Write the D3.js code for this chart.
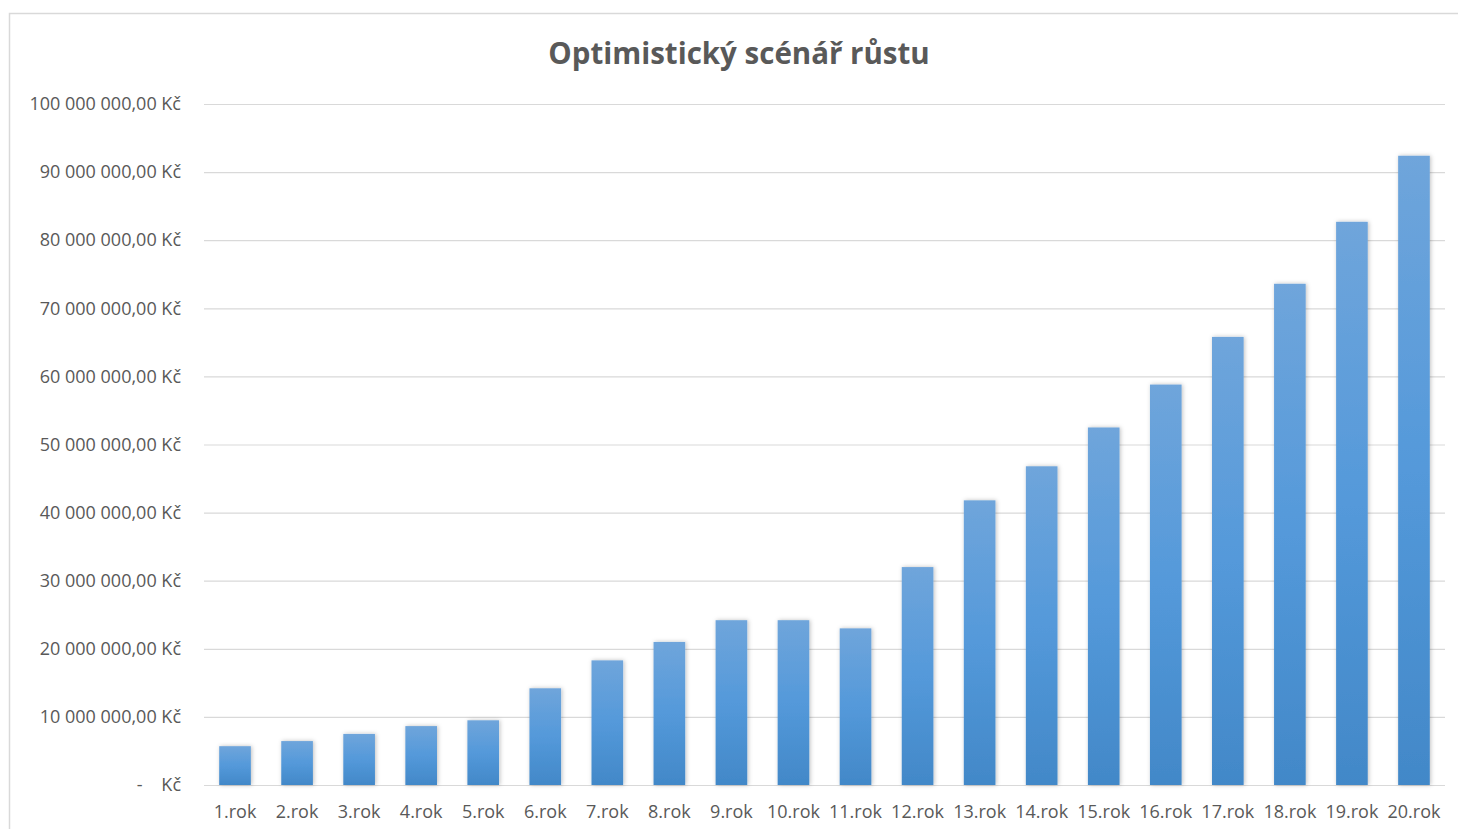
<html>
<head>
<meta charset="utf-8">
<title>Optimistický scénář růstu</title>
<script src="https://d3js.org/d3.v7.min.js"></script>
<style>
body { margin: 0; background: #fff; }
text { font-family: "Open Sans", Lato, sans-serif; fill: #595959; white-space: pre; }
.grid line { stroke: #d9d9d9; stroke-width: 1.2; }
</style>
</head>
<body>
<script>
// years and values (Kč)
var years = ["1.rok","2.rok","3.rok","4.rok","5.rok","6.rok","7.rok","8.rok","9.rok","10.rok",
             "11.rok","12.rok","13.rok","14.rok","15.rok","16.rok","17.rok","18.rok","19.rok","20.rok"];
var values = [5700000, 6450000, 7500000, 8650000, 9500000, 14200000, 18300000, 21000000, 24200000, 24200000,
              23000000, 32000000, 41800000, 46800000, 52500000, 58800000, 65800000, 73600000, 82700000, 92400000];
var yTicks = [0, 10000000, 20000000, 30000000, 40000000, 50000000, 60000000, 70000000, 80000000, 90000000, 100000000];

var W = 1458, H = 829;
var margin = {top: 104, right: 13, bottom: 44, left: 204},
    width = W - margin.left - margin.right,
    height = H - margin.top - margin.bottom;

var svg = d3.select("body").append("svg")
    .attr("width", W)
    .attr("height", H);

var defs = svg.append("defs");
var grad = defs.append("linearGradient")
    .attr("id", "barGrad")
    .attr("x1", 0).attr("y1", 0).attr("x2", 0).attr("y2", 1);
grad.append("stop").attr("offset", "0%").attr("stop-color", "#6fa5db");
grad.append("stop").attr("offset", "50%").attr("stop-color", "#5499da");
grad.append("stop").attr("offset", "100%").attr("stop-color", "#4288c8");

var shadow = defs.append("filter").attr("id", "shadow")
    .attr("x", "-30%").attr("y", "-10%").attr("width", "160%").attr("height", "120%");
shadow.append("feDropShadow")
    .attr("dx", 1).attr("dy", 0).attr("stdDeviation", 2)
    .attr("flood-color", "#000").attr("flood-opacity", 0.25);

// chart frame
svg.append("path")
    .attr("d", "M9.5," + H + "V13.5H" + W)
    .attr("fill", "none")
    .attr("stroke", "#d9d9d9")
    .attr("stroke-width", 1.5);

// title
svg.append("text")
    .attr("x", 739)
    .attr("y", 64)
    .attr("text-anchor", "middle")
    .style("font-size", "29.5px")
    .style("font-weight", "bold")
    .text("Optimistický scénář růstu");

var g = svg.append("g")
    .attr("transform", "translate(" + margin.left + "," + margin.top + ")");

var x = d3.scaleBand()
    .domain(years)
    .range([0, width])
    .paddingInner(0.49)
    .paddingOuter(0.245);

var y = d3.scaleLinear()
    .domain([0, 100000000])
    .range([height, 0]);

// y labels like "10 000 000,00 Kč"
function fmt(v) {
  if (v === 0) return "-    Kč";
  var s = String(v).replace(/\B(?=(\d{3})+(?!\d))/g, " ");
  return s + ",00 Kč";
}

// grid lines
g.append("g")
    .attr("class", "grid")
    .call(d3.axisLeft(y).tickValues(yTicks).tickSize(-width).tickFormat(""))
    .call(function(a) { a.select(".domain").remove(); });

// y axis labels
var yAxis = g.append("g")
    .call(d3.axisLeft(y).tickValues(yTicks).tickSize(0).tickPadding(23).tickFormat(fmt));
yAxis.select(".domain").remove();
yAxis.selectAll("text")
    .style("font-size", "18px")
    .attr("fill", "#595959");

// bars
g.selectAll(".bar")
    .data(values)
  .enter().append("rect")
    .attr("class", "bar")
    .attr("x", function(d, i) { return x(years[i]); })
    .attr("width", x.bandwidth())
    .attr("y", function(d) { return y(d); })
    .attr("height", function(d) { return height - y(d); })
    .attr("fill", "url(#barGrad)")
    .attr("filter", "url(#shadow)");

// x axis labels
var xAxis = g.append("g")
    .attr("transform", "translate(0," + height + ")")
    .call(d3.axisBottom(x).tickSize(0).tickPadding(20));
xAxis.select(".domain").remove();
xAxis.selectAll("text")
    .style("font-size", "18px")
    .attr("fill", "#595959");
</script>
</body>
</html>
